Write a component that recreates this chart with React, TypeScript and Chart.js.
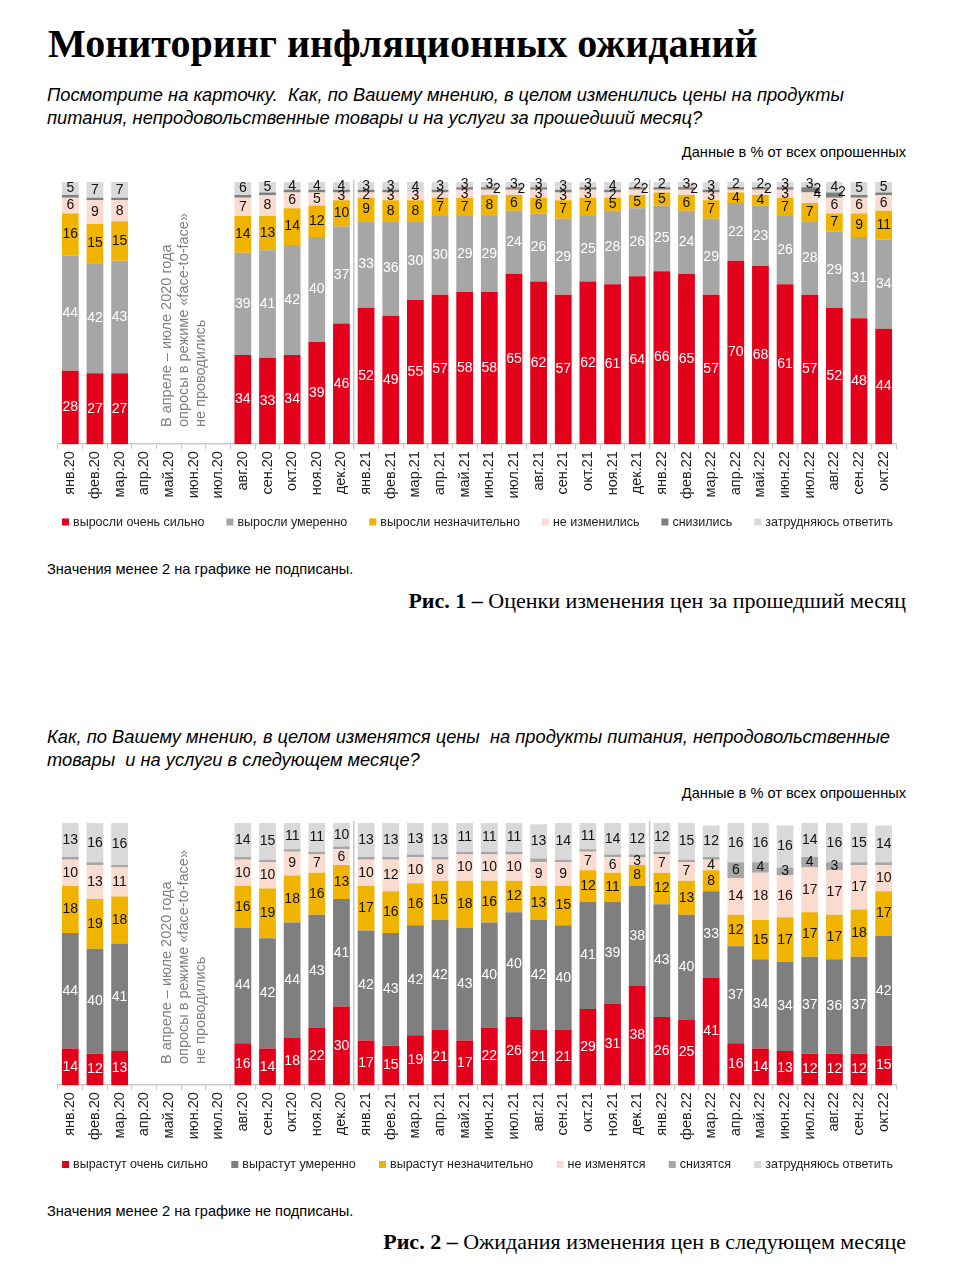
import React, { useEffect, useRef } from "react";
import { Chart, registerables } from "chart.js";

Chart.register(...registerables);

// ---------- DATA ----------
const months = [
  "янв.20", "фев.20", "мар.20", "апр.20", "май.20", "июн.20", "июл.20", "авг.20", "сен.20", "окт.20", "ноя.20", "дек.20",
  "янв.21", "фев.21", "мар.21", "апр.21", "май.21", "июн.21", "июл.21", "авг.21", "сен.21", "окт.21", "ноя.21", "дек.21",
  "янв.22", "фев.22", "мар.22", "апр.22", "май.22", "июн.22", "июл.22", "авг.22", "сен.22", "окт.22",
];

const n = null;

// Chart 1: price changes over the past month
const legend1 = ["выросли очень сильно", "выросли умеренно", "выросли незначительно", "не изменились", "снизились", "затрудняюсь ответить"];
const past_veryStrong = [28, 27, 27, n, n, n, n, 34, 33, 34, 39, 46, 52, 49, 55, 57, 58, 58, 65, 62, 57, 62, 61, 64, 66, 65, 57, 70, 68, 61, 57, 52, 48, 44];
const past_moderate = [44, 42, 43, n, n, n, n, 39, 41, 42, 40, 37, 33, 36, 30, 30, 29, 29, 24, 26, 29, 25, 28, 26, 25, 24, 29, 22, 23, 26, 28, 29, 31, 34];
const past_slight = [16, 15, 15, n, n, n, n, 14, 13, 14, 12, 10, 9, 8, 8, 7, 7, 8, 6, 6, 7, 7, 5, 5, 5, 6, 7, 4, 4, 7, 7, 7, 9, 11];
const past_unchanged = [6, 9, 8, n, n, n, n, 7, 8, 6, 5, 3, 2, 3, 3, 2, 3, 2, 2, 3, 3, 3, 2, 2, 1, 2, 3, 1, 2, 3, 4, 6, 6, 6];
const past_decreased = [1, 1, 1, n, n, n, n, 1, 1, 1, 1, 1, 1, 1, 0, 1, 1, 1, 1, 1, 1, 1, 1, 1, 1, 1, 1, 1, 1, 1, 2, 2, 1, 1];
const past_hardToSay = [5, 7, 7, n, n, n, n, 6, 5, 4, 4, 4, 3, 3, 4, 3, 3, 3, 3, 3, 3, 3, 4, 2, 2, 3, 3, 2, 2, 3, 3, 4, 5, 5];

// Chart 2: expected price changes next month
const legend2 = ["вырастут очень сильно", "вырастут умеренно", "вырастут незначительно", "не изменятся", "снизятся", "затрудняюсь ответить"];
const next_veryStrong = [14, 12, 13, n, n, n, n, 16, 14, 18, 22, 30, 17, 15, 19, 21, 17, 22, 26, 21, 21, 29, 31, 38, 26, 25, 41, 16, 14, 13, 12, 12, 12, 15];
const next_moderate = [44, 40, 41, n, n, n, n, 44, 42, 44, 43, 41, 42, 43, 42, 42, 43, 40, 40, 42, 40, 41, 39, 38, 43, 40, 33, 37, 34, 34, 37, 36, 37, 42];
const next_slight = [18, 19, 18, n, n, n, n, 16, 19, 18, 16, 13, 17, 16, 16, 15, 18, 16, 12, 13, 15, 12, 11, 8, 12, 13, 8, 12, 15, 17, 17, 17, 18, 17];
const next_unchanged = [10, 13, 11, n, n, n, n, 10, 10, 9, 7, 6, 10, 12, 10, 8, 10, 10, 10, 9, 9, 7, 6, 3, 7, 7, 4, 14, 18, 16, 17, 17, 17, 10];
const next_decrease = [1, 1, 1, n, n, n, n, 1, 1, 1, 1, 1, 1, 1, 1, 1, 1, 1, 1, 1.5, 1, 1, 1, 1, 1, 1, 1, 6, 4, 3, 4, 3, 1, 1];
const next_hardToSay = [13, 16, 16, n, n, n, n, 14, 15, 11, 11, 10, 13, 13, 13, 13, 11, 11, 11, 13, 14, 11, 14, 12, 12, 15, 12, 16, 16, 16, 14, 16, 15, 14];

// year separators: between these category indices
const separatorsAfter = [11, 23];

// ---------- STYLE ----------
const RED = "#e2001a";
const MID_GREY = "#a6a6a6";
const DARK_GREY = "#7f7f7f";
const YELLOW = "#f0b400";
const PINK = "#fadbd0";
const LIGHT_GREY = "#d9d9d9";
const SANS = '"Liberation Sans", Arial, sans-serif';
const SERIF = '"Liberation Serif", "Times New Roman", serif';

type Series = { label: string; data: (number | null)[]; color: string; textColor: string };

const separatorPlugin = {
  id: "separators",
  beforeDatasetsDraw(chart: any) {
    const meta = chart.getDatasetMeta(0);
    const { ctx, chartArea } = chart;
    ctx.save();
    ctx.strokeStyle = "#c8c8c8";
    ctx.lineWidth = 1.5;
    separatorsAfter.forEach((i) => {
      const a = meta.data[i];
      const b = meta.data[i + 1];
      if (!a || !b) return;
      const x = (a.x + b.x) / 2;
      ctx.beginPath();
      ctx.moveTo(x, chartArea.top - 2);
      ctx.lineTo(x, chartArea.bottom + 5);
      ctx.stroke();
    });
    ctx.restore();
  },
};

const valueLabelPlugin = {
  id: "valueLabels",
  afterDatasetsDraw(chart: any) {
    const { ctx, chartArea } = chart;
    const datasets = chart.data.datasets;
    const count = chart.data.labels.length;
    ctx.save();
    ctx.font = `14px ${SANS}`;
    ctx.textBaseline = "middle";
    ctx.textAlign = "center";
    for (let i = 0; i < count; i++) {
      let lastY: number | null = null;
      for (let d = datasets.length - 1; d >= 0; d--) {
        const v = datasets[d].data[i];
        if (v == null || v < 2) continue;
        const el = chart.getDatasetMeta(d).data[i];
        if (!el) continue;
        const top = Math.max(el.y, chartArea.top);
        const bottom = el.base;
        let cx = el.x;
        let cy = (top + bottom) / 2;
        if (lastY !== null && cy - lastY < 9) {
          cx = el.x + el.width * 0.45;
          cy = lastY + 5;
        }
        ctx.fillStyle = datasets[d].textColor;
        ctx.fillText(String(v), cx, cy);
        lastY = cy;
      }
    }
    ctx.restore();
  },
};

// legend spread across the plot width, drawn under the axis labels
const spreadLegendPlugin = {
  id: "spreadLegend",
  afterDraw(chart: any) {
    const opts = chart.options.plugins.spreadLegend;
    if (!opts) return;
    const { ctx, chartArea } = chart;
    const datasets = chart.data.datasets;
    ctx.save();
    ctx.font = `12.5px ${SANS}`;
    ctx.textBaseline = "middle";
    ctx.textAlign = "left";
    const box = 7;
    const gapBox = 4;
    const widths = datasets.map((d: any) => box + gapBox + ctx.measureText(d.label).width);
    const total = widths.reduce((a: number, b: number) => a + b, 0);
    const left = chartArea.left + 4;
    const right = chartArea.right - 3;
    const gap = (right - left - total) / (datasets.length - 1);
    let x = left;
    const y = opts.y;
    datasets.forEach((d: any, k: number) => {
      ctx.fillStyle = d.backgroundColor;
      ctx.fillRect(x, y - box / 2, box, box);
      ctx.fillStyle = "#222";
      ctx.fillText(d.label, x + box + gapBox, y + 0.5);
      x += widths[k] + gap;
    });
    ctx.restore();
  },
};

function StackedChart(props: { series: Series[]; top: number; legendY: number }) {
  const ref = useRef<HTMLCanvasElement>(null);
  const W = 864;
  const H = 372;
  useEffect(() => {
    if (!ref.current) return;
    const chart = new Chart(ref.current, {
      type: "bar",
      data: {
        labels: months,
        datasets: props.series.map((s) => ({
          label: s.label,
          data: s.data,
          backgroundColor: s.color,
          borderWidth: 0,
          barPercentage: 0.68,
          categoryPercentage: 1,
          textColor: s.textColor,
        })) as any,
      },
      options: {
        animation: false,
        responsive: false,
        maintainAspectRatio: false,
        devicePixelRatio: 1,
        layout: { padding: { left: 12, right: 14, top: 12, bottom: 41 } },
        scales: {
          x: {
            stacked: true,
            grid: { display: true, drawOnChartArea: false, drawTicks: true, tickLength: 5, color: "#c8c8c8", offset: true },
            border: { display: true, color: "#c8c8c8", width: 1.5 },
            ticks: {
              autoSkip: false,
              maxRotation: 90,
              minRotation: 90,
              padding: 2,
              color: "#222",
              font: { size: 14.5, family: SANS },
            },
          },
          y: { stacked: true, display: false, min: 0, max: 100 },
        },
        plugins: {
          legend: { display: false },
          tooltip: { enabled: false },
          spreadLegend: { y: props.legendY },
        } as any,
      },
      plugins: [separatorPlugin, valueLabelPlugin, spreadLegendPlugin],
    });
    return () => chart.destroy();
  }, []);
  return (
    <canvas
      ref={ref}
      width={W}
      height={H}
      style={{ position: "absolute", left: 46, top: props.top, width: W, height: H }}
    />
  );
}

function Note(props: { centerY: number }) {
  return (
    <div
      style={{
        position: "absolute",
        left: 184 - 112,
        top: props.centerY - 26,
        width: 224,
        height: 52,
        transform: "rotate(-90deg)",
        transformOrigin: "50% 50%",
        font: `14.5px/17px ${SANS}`,
        color: "#808080",
        whiteSpace: "nowrap",
      }}
    >
      <div>В апреле – июле 2020 года</div>
      <div>опросы в режиме «face-to-face»</div>
      <div>не проводились</div>
    </div>
  );
}

const abs = (top: number, extra: React.CSSProperties): React.CSSProperties => ({
  position: "absolute",
  top,
  whiteSpace: "nowrap",
  ...extra,
});

export default function App() {
  const series1: Series[] = [
    { label: legend1[0], data: past_veryStrong, color: RED, textColor: "#ffffff" },
    { label: legend1[1], data: past_moderate, color: MID_GREY, textColor: "#ffffff" },
    { label: legend1[2], data: past_slight, color: YELLOW, textColor: "#111" },
    { label: legend1[3], data: past_unchanged, color: PINK, textColor: "#111" },
    { label: legend1[4], data: past_decreased, color: DARK_GREY, textColor: "#111" },
    { label: legend1[5], data: past_hardToSay, color: LIGHT_GREY, textColor: "#111" },
  ];
  const series2: Series[] = [
    { label: legend2[0], data: next_veryStrong, color: RED, textColor: "#ffffff" },
    { label: legend2[1], data: next_moderate, color: DARK_GREY, textColor: "#ffffff" },
    { label: legend2[2], data: next_slight, color: YELLOW, textColor: "#111" },
    { label: legend2[3], data: next_unchanged, color: PINK, textColor: "#111" },
    { label: legend2[4], data: next_decrease, color: MID_GREY, textColor: "#111" },
    { label: legend2[5], data: next_hardToSay, color: LIGHT_GREY, textColor: "#111" },
  ];
  const q = { font: `italic 18.3px/22.5px ${SANS}`, color: "#000", left: 47 };
  const small = { font: `14.6px/16px ${SANS}`, color: "#000" };
  const cap = { font: `22px/26px ${SERIF}`, color: "#000", right: 49 };
  return (
    <div style={{ position: "absolute", left: 0, top: 0, width: 955, height: 1280, background: "#fff", overflow: "hidden" }}>
      <div style={abs(23.5, { left: 48, font: `bold 40px/40px ${SERIF}`, color: "#000" })}>Мониторинг инфляционных ожиданий</div>
      <div style={abs(84, q)}>
        Посмотрите на карточку.&nbsp; Как, по Вашему мнению, в целом изменились цены на продукты
        <br />
        питания, непродовольственные товары и на услуги за прошедший месяц?
      </div>
      <div style={abs(144, { ...small, right: 49 })}>Данные в % от всех опрошенных</div>
      <StackedChart series={series1} top={170} legendY={352} />
      <Note centerY={315} />
      <div style={abs(561, { ...small, left: 47 })}>Значения менее 2 на графике не подписаны.</div>
      <div style={abs(588, cap)}>
        <b>Рис. 1 –</b> Оценки изменения цен за прошедший месяц
      </div>

      <div style={abs(726, q)}>
        Как, по Вашему мнению, в целом изменятся цены&nbsp; на продукты питания, непродовольственные
        <br />
        товары&nbsp; и на услуги в следующем месяце?
      </div>
      <div style={abs(785, { ...small, right: 49 })}>Данные в % от всех опрошенных</div>
      <StackedChart series={series2} top={810.5} legendY={353.5} />
      <Note centerY={952} />
      <div style={abs(1203, { ...small, left: 47 })}>Значения менее 2 на графике не подписаны.</div>
      <div style={abs(1229, cap)}>
        <b>Рис. 2 –</b> Ожидания изменения цен в следующем месяце
      </div>
    </div>
  );
}
